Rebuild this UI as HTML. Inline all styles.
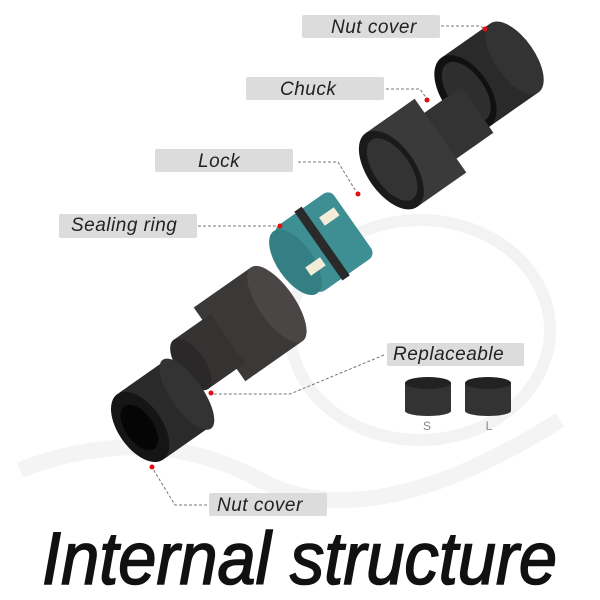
<!DOCTYPE html>
<html><head><style>
html,body{margin:0;padding:0;background:#fff;}
svg{display:block}
.lb{fill:#dcdcdc}
.lt{font-family:"Liberation Sans",sans-serif;font-style:italic;font-size:19px;fill:#222;letter-spacing:0.5px}
.dl{stroke:#777;stroke-width:1;stroke-dasharray:3,2;fill:none}
.dot{fill:#e01010}
</style></head><body>
<svg width="600" height="600" viewBox="0 0 600 600" xmlns="http://www.w3.org/2000/svg">
<rect width="600" height="600" fill="#fff"/>
<ellipse cx="420" cy="330" rx="130" ry="110" fill="none" stroke="#f3f3f3" stroke-width="12"/>
<path d="M20 470 Q150 420 260 480 T560 420" fill="none" stroke="#f4f4f4" stroke-width="16"/>

<!-- top nut cover -->
<g transform="rotate(-35 490 75)">
<rect x="460" y="33" width="60" height="84" fill="#2a2a2a"/>
<ellipse cx="520" cy="75" rx="20" ry="42" fill="#333"/>
<ellipse cx="460" cy="75" rx="24" ry="42" fill="#111"/>
<ellipse cx="461" cy="75" rx="18" ry="34" fill="#2e2e2e"/>
</g>
<!-- chuck top -->
<g transform="rotate(-35 420 150)">
<rect x="440" y="122" width="50" height="56" fill="#333"/>
<rect x="385" y="105" width="60" height="90" fill="#3a3a3a"/>
<ellipse cx="385" cy="150" rx="24" ry="45" fill="#1a1a1a"/>
<ellipse cx="386" cy="150" rx="18" ry="36" fill="#333"/>
</g>
<!-- teal lock -->
<g transform="rotate(-35 320 245)">
<rect x="290" y="205" width="70" height="80" rx="8" fill="#3d8f94"/>
<rect x="318" y="203" width="9" height="84" fill="#2a2a2a"/>
<ellipse cx="290" cy="245" rx="18" ry="38" fill="#347f84"/>
<rect x="335" y="222" width="18" height="10" fill="#f2ecd8"/>
<rect x="295" y="255" width="18" height="10" fill="#f2ecd8"/>
</g>
<!-- bottom chuck -->
<g transform="rotate(-35 240 330)">
<rect x="215" y="285" width="70" height="90" fill="#3b3838"/>
<rect x="180" y="300" width="45" height="60" fill="#353232"/>
<ellipse cx="285" cy="330" rx="18" ry="45" fill="#4a4646"/>
<ellipse cx="180" cy="330" rx="14" ry="30" fill="#2a2828"/>
</g>
<!-- bottom nut -->
<g transform="rotate(-35 150 420)">
<rect x="140" y="380" width="55" height="80" fill="#2a2a2a"/>
<ellipse cx="195" cy="420" rx="16" ry="42" fill="#333"/>
<ellipse cx="138" cy="420" rx="22" ry="40" fill="#151515"/>
<ellipse cx="137" cy="420" rx="14" ry="26" fill="#050505"/>
</g>
<!-- rings -->
<rect x="405" y="383" width="46" height="28" fill="#333"/>
<ellipse cx="428" cy="383" rx="23" ry="6" fill="#222"/>
<ellipse cx="428" cy="411" rx="23" ry="5" fill="#333"/>
<rect x="465" y="383" width="46" height="28" fill="#333"/>
<ellipse cx="488" cy="383" rx="23" ry="6" fill="#222"/>
<ellipse cx="488" cy="411" rx="23" ry="5" fill="#333"/>
<text x="427" y="430" font-family="Liberation Sans,sans-serif" font-size="12" fill="#888" text-anchor="middle">S</text>
<text x="489" y="430" font-family="Liberation Sans,sans-serif" font-size="12" fill="#888" text-anchor="middle">L</text>

<rect class="lb" x="302" y="15" width="138" height="23" rx="2"/><text class="lt" x="331" y="33">Nut cover</text>
<path class="dl" d="M441 26 H480 L485 29"/><circle class="dot" cx="485" cy="29" r="2.5"/>
<rect class="lb" x="246" y="77" width="138" height="23" rx="2"/><text class="lt" x="280" y="95">Chuck</text>
<path class="dl" d="M386 89 H420 L427 99"/><circle class="dot" cx="427" cy="100" r="2.5"/>
<rect class="lb" x="155" y="149" width="138" height="23" rx="2"/><text class="lt" x="198" y="167">Lock</text>
<path class="dl" d="M298 162 H338 L357 193"/><circle class="dot" cx="358" cy="194" r="2.5"/>
<rect class="lb" x="59" y="214" width="138" height="24" rx="2"/><text class="lt" x="71" y="231">Sealing ring</text>
<path class="dl" d="M198 226 H278"/><circle class="dot" cx="280" cy="226" r="2.5"/>
<rect class="lb" x="387" y="343" width="137" height="23" rx="2"/><text class="lt" x="393" y="360">Replaceable</text>
<path class="dl" d="M384 355 L290 394 H213"/><circle class="dot" cx="211" cy="393" r="2.5"/>
<rect class="lb" x="209" y="493" width="118" height="23" rx="2"/><text class="lt" x="217" y="511">Nut cover</text>
<path class="dl" d="M207 505 H175 L153 469"/><circle class="dot" cx="152" cy="467" r="2.5"/>

<text x="42" y="584" font-family="Liberation Sans,sans-serif" font-style="italic" font-size="74" fill="#111" stroke="#111" stroke-width="1.6" textLength="515" lengthAdjust="spacingAndGlyphs">Internal structure</text>
</svg>
</body></html>
